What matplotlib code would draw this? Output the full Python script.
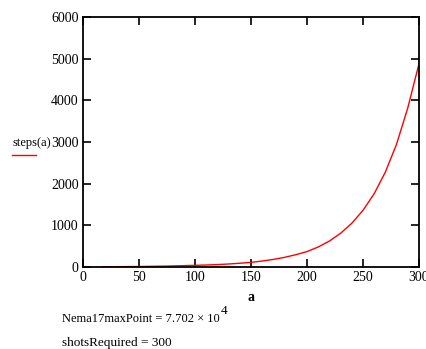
import numpy as np
import matplotlib.pyplot as plt
from matplotlib.lines import Line2D

# values
a_vals = [17, 50, 75, 100, 110, 120, 130, 140, 150, 160, 170, 180, 190,
          200, 210, 220, 230, 240, 250, 260, 270, 280, 290, 300]
steps_vals = [5, 12, 22, 40, 48, 58, 72, 90, 112, 143, 182, 232, 295,
              370, 480, 623, 809, 1050, 1360, 1760, 2280, 2950, 3820, 4880]

x_ticks = [0, 50, 100, 150, 200, 250, 300]
y_ticks = [0, 1000, 2000, 3000, 4000, 5000, 6000]

plt.rcParams['font.family'] = ['Liberation Serif', 'DejaVu Serif']

fig = plt.figure(figsize=(4.27, 3.49), dpi=100)
W, H = 427.0, 349.0
ax = fig.add_axes([83/W, 1 - 267/H, (419-83)/W, (267-17)/H])

ax.plot(a_vals, steps_vals, color='red', lw=1.0)

ax.set_xlim(0, 300)
ax.set_ylim(0, 6000)
ax.set_xticks(x_ticks)
ax.set_yticks(y_ticks)
ax.tick_params(direction='in', length=6, width=1.2, labelsize=10,
               top=True, right=True, pad=3)
ax.tick_params(axis='y', pad=3)
for s in ax.spines.values():
    s.set_linewidth(1.3)

ax.set_xlabel('a', fontsize=10, fontweight='bold', labelpad=5)

# legend-like label on the left
fig.text(13/W, 1 - 143/H, 'steps(a)', fontsize=9, ha='left', va='center')
fig.add_artist(Line2D([12/W, 36/W], [1 - 155/H, 1 - 155/H],
                      color='red', lw=1.0, transform=fig.transFigure))

# result lines below the chart
nema = fig.text(62/W, 1 - 319/H, 'Nema17maxPoint = 7.702 \u00d7 10',
                fontsize=9, ha='left', va='center')
fig.canvas.draw()
bb = nema.get_window_extent()
fig.text((bb.x1 + 1)/W, 1 - 311/H, '4', fontsize=9.5, ha='left', va='center')
fig.text(62/W, 1 - 343/H, 'shotsRequired = 300',
         fontsize=9.5, ha='left', va='center')

plt.savefig('out.png', dpi=100)
